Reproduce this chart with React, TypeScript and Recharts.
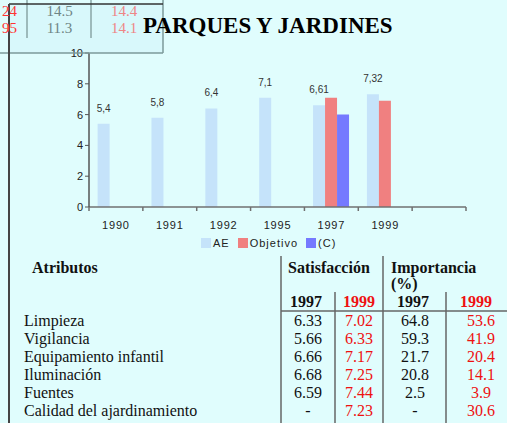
import { BarChart, Bar, XAxis, YAxis, Legend, LabelList } from 'recharts';

const W = 507;
const H = 423;

const YEARS = ['1990', '1991', '1992', '1995', '1997', '1999', ''];
const AE = [5.4, 5.8, 6.4, 7.1, 6.61, 7.32, null];
const OBJETIVO = [null, null, null, null, 7.1, 6.9, null];
const C = [null, null, null, null, 6.0, null, null];
const Y_TICKS = [0, 2, 4, 6, 8, 10];

const ATRIBUTOS = [
  'Limpieza',
  'Vigilancia',
  'Equipamiento infantil',
  'Iluminación',
  'Fuentes',
  'Calidad del ajardinamiento',
];
const SAT_1997 = ['6.33', '5.66', '6.66', '6.68', '6.59', '-'];
const SAT_1999 = ['7.02', '6.33', '7.17', '7.25', '7.44', '7.23'];
const IMP_1997 = ['64.8', '59.3', '21.7', '20.8', '2.5', '-'];
const IMP_1999 = ['53.6', '41.9', '20.4', '14.1', '3.9', '30.6'];

// bits of the sheet that peek out behind the chart, top left
const TOP_LEFT = [
  ['24', '14.5', '14.4'],
  ['95', '11.3', '14.1'],
];

const SERIES = [
  { key: 'ae', name: 'AE', color: '#c5e3fa' },
  { key: 'objetivo', name: 'Objetivo', color: '#f08080' },
  { key: 'c', name: '(C)', color: '#7579ff' },
];

const data = YEARS.map((year, i) => ({ year, ae: AE[i], objetivo: OBJETIVO[i], c: C[i] }));

const SANS = '"Liberation Sans", Arial, sans-serif';
const SERIF = '"Liberation Serif", "Times New Roman", serif';
const RED = '#ee1111';
const INK = '#111';

const MARGIN = { top: 53, right: 41, bottom: 186, left: 0 };
const Y_AXIS_W = 89;
const BAND = (W - Y_AXIS_W - MARGIN.right) / YEARS.length;

function YearTick(props: any) {
  const { x, y, payload, index } = props;
  const half = BAND / 2;
  return (
    <g>
      <line x1={x - half} x2={x - half} y1={y} y2={y + 4} stroke="#707070" strokeWidth={1.5} />
      {index === YEARS.length - 1 && (
        <line x1={x + half} x2={x + half} y1={y} y2={y + 4} stroke="#707070" strokeWidth={1.5} />
      )}
      <text x={x} y={y + 22} textAnchor="middle" fontSize={11} fontFamily={SANS} fill="#222" letterSpacing={0.8}>
        {payload.value}
      </text>
    </g>
  );
}

function LegendBox() {
  return (
    <div style={{ display: 'flex', alignItems: 'center', fontFamily: SANS, fontSize: 11, letterSpacing: 1, color: '#222' }}>
      {SERIES.map((s) => (
        <div key={s.key} style={{ display: 'flex', alignItems: 'center', marginRight: 8 }}>
          <span style={{ display: 'inline-block', width: 10, height: 10, background: s.color, marginRight: 2 }} />
          {s.name}
        </div>
      ))}
    </div>
  );
}

const HEAD_X = [306, 359, 413, 476];
const CELL_X = [308, 359, 415, 481];
const COL_COLORS = [INK, RED, INK, RED];

export default function App() {
  const rows = ATRIBUTOS.map((name, i) => [name, SAT_1997[i], SAT_1999[i], IMP_1997[i], IMP_1999[i]]);
  const line = { stroke: '#666', strokeWidth: 1.5 };
  const faint = { stroke: '#7d9a9a', strokeWidth: 1.5 };

  return (
    <div style={{ position: 'fixed', left: 0, top: 0, width: W, height: H, background: '#e0fdfd', overflow: 'hidden' }}>
      <svg width={W} height={H} style={{ position: 'absolute', left: 0, top: 0 }}>
        <rect x={9} y={4} width={154} height={49} fill="#d8f8fb" />
      </svg>

      <BarChart
        width={W}
        height={H}
        data={data}
        margin={MARGIN}
        barCategoryGap="16%"
        barGap={0}
        style={{ position: 'absolute', left: 0, top: 0 }}
      >
        <XAxis
          dataKey="year"
          height={30}
          interval={0}
          tickLine={false}
          tickSize={0}
          tickMargin={0}
          tick={(p: any) => <YearTick {...p} />}
          axisLine={{ stroke: '#707070', strokeWidth: 1.5 }}
        />
        <YAxis
          domain={[0, 10]}
          ticks={Y_TICKS}
          width={Y_AXIS_W}
          tickSize={4}
          tickMargin={2}
          interval={0}
          tick={{ fill: '#222', fontSize: 11, fontFamily: SANS }}
          axisLine={{ stroke: '#555', strokeWidth: 1.5 }}
          tickLine={{ stroke: '#555' }}
        />
        <Legend
          layout="horizontal"
          verticalAlign="middle"
          align="center"
          wrapperStyle={{ top: 237, left: 201, width: 220, height: 14 }}
          content={() => <LegendBox />}
        />
        {SERIES.map((s) => (
          <Bar key={s.key} dataKey={s.key} name={s.name} fill={s.color} isAnimationActive={false}>
            {s.key === 'ae' && (
              <LabelList
                dataKey="ae"
                position="top"
                offset={12}
                fontSize={10}
                fontFamily={SANS}
                fill="#333"
                formatter={(v: any) => (v == null ? '' : String(v).replace('.', ','))}
              />
            )}
          </Bar>
        ))}
      </BarChart>

      <svg width={W} height={H} style={{ position: 'absolute', left: 0, top: 0, pointerEvents: 'none' }}>
        {/* sheet grid peeking out */}
        <line x1={27} x2={27} y1={0} y2={38} stroke="#8aa6a6" strokeWidth={1.5} />
        <line x1={91} x2={91} y1={0} y2={38} stroke="#8aa6a6" strokeWidth={1.5} />
        <line x1={163} x2={163} y1={0} y2={53} {...faint} />
        <line x1={0} x2={163} y1={53} y2={53} {...faint} />
        <line x1={9} x2={163} y1={4} y2={4} stroke="#333" strokeWidth={1.5} />
        <line x1={9} x2={9} y1={4} y2={H} stroke="#444" strokeWidth={2} />
        {TOP_LEFT.map((r, i) => (
          <g key={i} fontFamily={SERIF} fontSize={15}>
            <text x={17} y={16 + 17 * i} textAnchor="end" fill="#ff3333">{r[0]}</text>
            <text x={59.5} y={16 + 17 * i} textAnchor="middle" fill="#6f8585">{r[1]}</text>
            <text x={111} y={16 + 17 * i} fill="#ef8585">{r[2]}</text>
          </g>
        ))}

        <text x={143} y={33} fontFamily={SERIF} fontSize={23} fontWeight="bold" fill="#000">
          PARQUES Y JARDINES
        </text>

        {/* table */}
        <line x1={281} x2={281} y1={256} y2={H} {...line} />
        <line x1={383} x2={383} y1={256} y2={H} {...line} />
        <line x1={335} x2={335} y1={292} y2={H} {...line} />
        <line x1={446} x2={446} y1={292} y2={H} {...line} />
        <line x1={281} x2={W} y1={311} y2={311} {...line} />

        <g fontFamily={SERIF} fontSize={16} fontWeight="bold" fill={INK}>
          <text x={32} y={273}>Atributos</text>
          <text x={288} y={273}>Satisfacción</text>
          <text x={391} y={273}>Importancia</text>
          <text x={391} y={289}>(%)</text>
          {['1997', '1999', '1997', '1999'].map((t, i) => (
            <text key={i} x={HEAD_X[i]} y={307} textAnchor="middle" fill={COL_COLORS[i]}>{t}</text>
          ))}
        </g>

        <g fontFamily={SERIF} fontSize={16} fill={INK}>
          {rows.map((r, i) => (
            <g key={i}>
              <text x={24} y={326 + 18 * i}>{r[0]}</text>
              {r.slice(1).map((v, j) => (
                <text key={j} x={CELL_X[j]} y={326 + 18 * i} textAnchor="middle" fill={COL_COLORS[j]}>{v}</text>
              ))}
            </g>
          ))}
        </g>
      </svg>
    </div>
  );
}
